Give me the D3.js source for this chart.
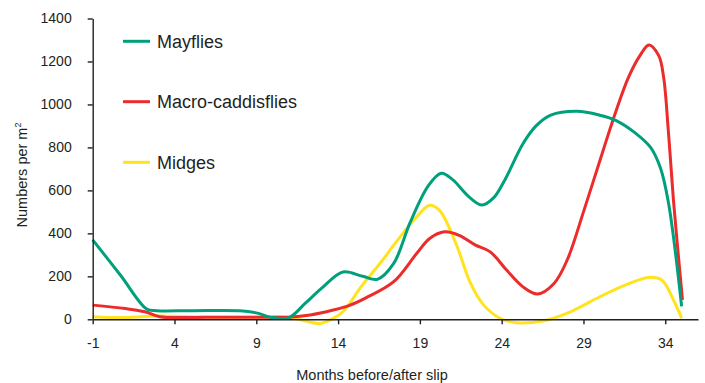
<!DOCTYPE html>
<html>
<head>
<meta charset="utf-8">
<script src="https://cdn.jsdelivr.net/npm/d3@7"></script>
<style>
  body { margin: 0; background: #fff; }
  text { font-family: "Liberation Sans", Arial, sans-serif; fill: #231f20; }
</style>
</head>
<body>
<div id="chart"></div>
<script>
/* Values: [month, numbers per m2] */
var mayflies = [[-1,370],[0.7,205],[2.3,48],[2.9,40],[5,40],[8,40],[9,30],[10,8],[11,8],[12,75],[13,145],[14.3,220],[15.5,200],[16.4,186],
  [17.4,260],[18.4,450],[19.5,620],[20.3,680],[21,650],[22,570],[22.8,532],[23.5,565],[24.2,650],[25.3,817],
  [26.1,900],[27,950],[28.6,968],[30,950],[31,925],[32.2,865],[33.1,800],[33.7,705],[34.2,540],[35,60]];
var caddis = [[-1,66],[1,50],[2.2,35],[3.1,12],[6,10],[9,10],[11,10],[12.3,20],[13.7,43],[14.7,65],[15.7,100],
  [17.4,175],[18.8,306],[19.6,376],[20.5,407],[21.4,391],[22.4,345],[23.3,314],[24.3,229],[25.3,151],[26.2,118],
  [27.2,167],[28,275],[29,500],[30.2,786],[31,972],[31.75,1126],[32.45,1227],[33,1277],[33.6,1227],[33.9,1126],
  [34.2,863],[34.5,554],[35.05,90]];
var midges = [[-1,12],[1,8],[3,15],[6,10],[9,10],[11,10],[12,-8],[12.9,-19],[13.6,0],[14.3,35],[15.4,151],[16.8,283],
  [17.4,345],[18.8,476],[19.6,531],[20.2,507],[21.2,353],[22.1,167],[22.9,66],[23.9,5],[24.9,-16],[26.5,-8],
  [28.2,35],[30,105],[31.8,167],[33,195],[33.8,182],[34.5,90],[35,5]];

var seriesNames = ["Mayflies", "Macro-caddisflies", "Midges"];
var seriesColors = ["#00a07c", "#ec2b2b", "#ffe31f"];
var xTicks = [-1, 4, 9, 14, 19, 24, 29, 34];
var yTicks = [0, 200, 400, 600, 800, 1000, 1200, 1400];

var width = 705, height = 383;

var svg = d3.select("#chart").append("svg")
    .attr("width", width)
    .attr("height", height);

var x = d3.scaleLinear().domain([-1, 36]).range([92.7, 698]);
var y = d3.scaleLinear().domain([0, 1400]).range([319.3, 18.5]);

/* series lines, smoothed like the original */
var line = d3.line()
    .x(function(d) { return x(d[0]); })
    .y(function(d) { return y(d[1]); })
    .curve(d3.curveCatmullRom.alpha(0.5));

var allSeries = [mayflies, caddis, midges];

svg.append("g")
  .selectAll("path")
  .data([midges, caddis, mayflies])
  .enter().append("path")
    .attr("fill", "none")
    .attr("stroke", function(d) { return seriesColors[allSeries.indexOf(d)]; })
    .attr("stroke-width", 3)
    .attr("stroke-linejoin", "round")
    .attr("d", line);

/* axes */
var plain = function(d) { return String(d); };

var yAxis = svg.append("g")
    .attr("transform", "translate(" + x.range()[0] + ",0)")
    .call(d3.axisLeft(y).tickValues(yTicks).tickFormat(plain).tickSize(5).tickSizeOuter(0).tickPadding(16));

var xAxis = svg.append("g")
    .attr("transform", "translate(0," + y(0) + ")")
    .call(d3.axisBottom(x).tickValues(xTicks).tickFormat(plain).tickSize(5).tickSizeOuter(0).tickPadding(14));

[yAxis, xAxis].forEach(function(g) {
  g.selectAll("path, line").attr("stroke", "#231f20").attr("stroke-width", 1.4);
  g.selectAll("text")
    .attr("font-size", 14)
    .attr("font-family", "Liberation Sans, Arial, sans-serif")
    .attr("fill", "#231f20");
});

/* axis titles */
svg.append("text")
    .attr("x", 372)
    .attr("y", 380)
    .attr("text-anchor", "middle")
    .attr("font-size", 14.5)
    .text("Months before/after slip");

var yTitle = svg.append("text")
    .attr("transform", "translate(27,175) rotate(-90)")
    .attr("text-anchor", "middle")
    .attr("font-size", 14.5);
yTitle.append("tspan").text("Numbers per m");
yTitle.append("tspan").attr("font-size", 9).attr("dy", -6).text("2");

/* legend */
var legendY = [41.3, 101.7, 162.3];
var legend = svg.append("g").attr("class", "legend");

legend.selectAll("line")
  .data(seriesNames)
  .enter().append("line")
    .attr("x1", 123).attr("x2", 150)
    .attr("y1", function(d, i) { return legendY[i]; })
    .attr("y2", function(d, i) { return legendY[i]; })
    .attr("stroke", function(d, i) { return seriesColors[i]; })
    .attr("stroke-width", 3);

legend.selectAll("text")
  .data(seriesNames)
  .enter().append("text")
    .attr("x", 157)
    .attr("y", function(d, i) { return legendY[i]; })
    .attr("dy", "0.35em")
    .attr("font-size", 18)
    .text(function(d) { return d; });
</script>
</body>
</html>
